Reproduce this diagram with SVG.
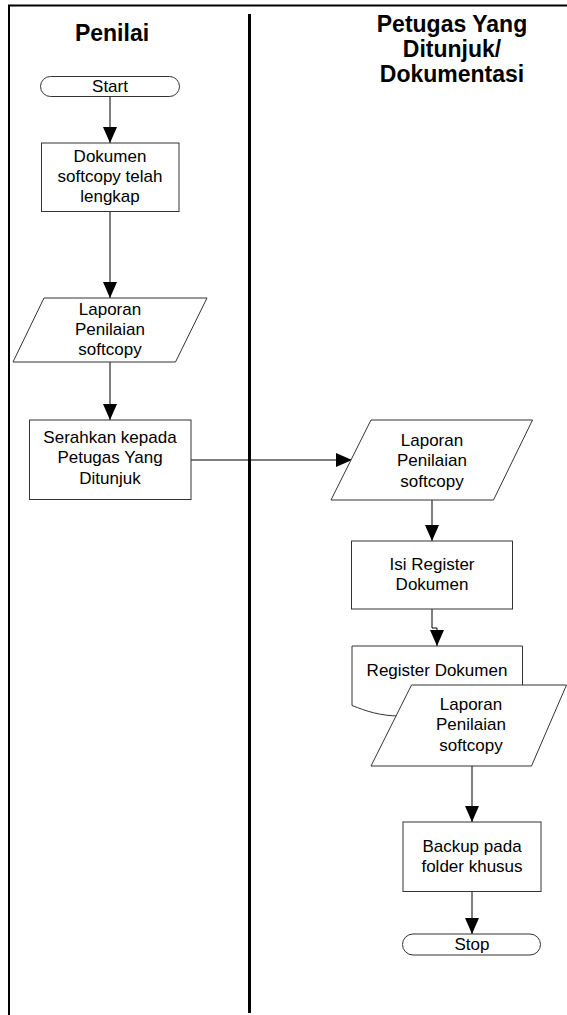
<svg xmlns="http://www.w3.org/2000/svg" width="567" height="1015" viewBox="0 0 567 1015">
<defs>
<marker id="arr" markerWidth="16" markerHeight="14" refX="16" refY="7" orient="auto" markerUnits="userSpaceOnUse">
<path d="M0,0 L16,7 L0,14 Z" fill="#000"/>
</marker>
<style>
.shape{fill:#fff;stroke:#333;stroke-width:1}
.lbl{font-family:"Liberation Sans",Arial,sans-serif;font-size:17px;fill:#000;text-anchor:middle}
.hdr{font-family:"Liberation Sans",Arial,sans-serif;font-size:23px;font-weight:bold;fill:#000;text-anchor:middle}
.conn{fill:none;stroke:#000;stroke-width:1}
</style>
</defs>
<rect width="567" height="1015" fill="#fff"/>
<g id="frame">
<path d="M9,1015 V5.5 H567" fill="none" stroke="#000" stroke-width="2"/>
<line x1="249.5" y1="14" x2="249.5" y2="1013" stroke="#000" stroke-width="3"/>
</g>
<g id="headers">
<text class="hdr" x="112" y="41">Penilai</text>
<text class="hdr" x="452" y="32">Petugas Yang</text>
<text class="hdr" x="452" y="57">Ditunjuk/</text>
<text class="hdr" x="452" y="82">Dokumentasi</text>
</g>
<g id="connectors">
<line class="conn" x1="110" y1="97" x2="110" y2="143" marker-end="url(#arr)"/>
<line class="conn" x1="110" y1="211" x2="110" y2="298" marker-end="url(#arr)"/>
<line class="conn" x1="110" y1="362" x2="110" y2="420" marker-end="url(#arr)"/>
<line class="conn" x1="191" y1="460" x2="352" y2="460" marker-end="url(#arr)"/>
<line class="conn" x1="432" y1="500" x2="432" y2="541" marker-end="url(#arr)"/>
<path class="conn" d="M432,609 V628 H437 V646" marker-end="url(#arr)"/>
<line class="conn" x1="472" y1="766" x2="472" y2="822" marker-end="url(#arr)"/>
<line class="conn" x1="472" y1="892" x2="472" y2="934" marker-end="url(#arr)"/>
</g>
<g id="start">
<rect class="shape" x="40.5" y="76.5" width="139" height="20" rx="10" ry="10"/>
<text class="lbl" x="110" y="92">Start</text>
</g>
<g id="dokumen">
<rect class="shape" x="41.5" y="143" width="137.5" height="68.5"/>
<text class="lbl" x="110" y="162">Dokumen</text>
<text class="lbl" x="110" y="182">softcopy telah</text>
<text class="lbl" x="110" y="202">lengkap</text>
</g>
<g id="laporan1">
<path class="shape" d="M44,298 H207 L175.5,362 H13 Z"/>
<text class="lbl" x="110" y="315">Laporan</text>
<text class="lbl" x="110" y="335">Penilaian</text>
<text class="lbl" x="110" y="355">softcopy</text>
</g>
<g id="serahkan">
<rect class="shape" x="29.5" y="420" width="161.5" height="79.5"/>
<text class="lbl" x="110" y="443">Serahkan kepada</text>
<text class="lbl" x="110" y="463">Petugas Yang</text>
<text class="lbl" x="110" y="484">Ditunjuk</text>
</g>
<g id="laporan2">
<path class="shape" d="M371,420 H532.5 L493.5,500 H331 Z"/>
<text class="lbl" x="432" y="446">Laporan</text>
<text class="lbl" x="432" y="466">Penilaian</text>
<text class="lbl" x="432" y="487">softcopy</text>
</g>
<g id="isi-register">
<rect class="shape" x="351.5" y="541" width="161" height="68"/>
<text class="lbl" x="432" y="570">Isi Register</text>
<text class="lbl" x="432" y="590">Dokumen</text>
</g>
<g id="register-dokumen">
<path class="shape" d="M352,646 H522.5 V702 C480,686 440,716 400,716 C380,716 366,711 352,705.5 Z"/>
<text class="lbl" x="437" y="676">Register Dokumen</text>
</g>
<g id="laporan3">
<path class="shape" d="M411.5,685 H566.5 L531.5,766 H371 Z"/>
<text class="lbl" x="471" y="710">Laporan</text>
<text class="lbl" x="471" y="730">Penilaian</text>
<text class="lbl" x="471" y="751">softcopy</text>
</g>
<g id="backup">
<rect class="shape" x="403" y="822" width="138" height="69.5"/>
<text class="lbl" x="472" y="852">Backup pada</text>
<text class="lbl" x="472" y="872">folder khusus</text>
</g>
<g id="stop">
<rect class="shape" x="402.5" y="934" width="138" height="21" rx="10.5" ry="10.5"/>
<text class="lbl" x="472" y="950">Stop</text>
</g>
</svg>
